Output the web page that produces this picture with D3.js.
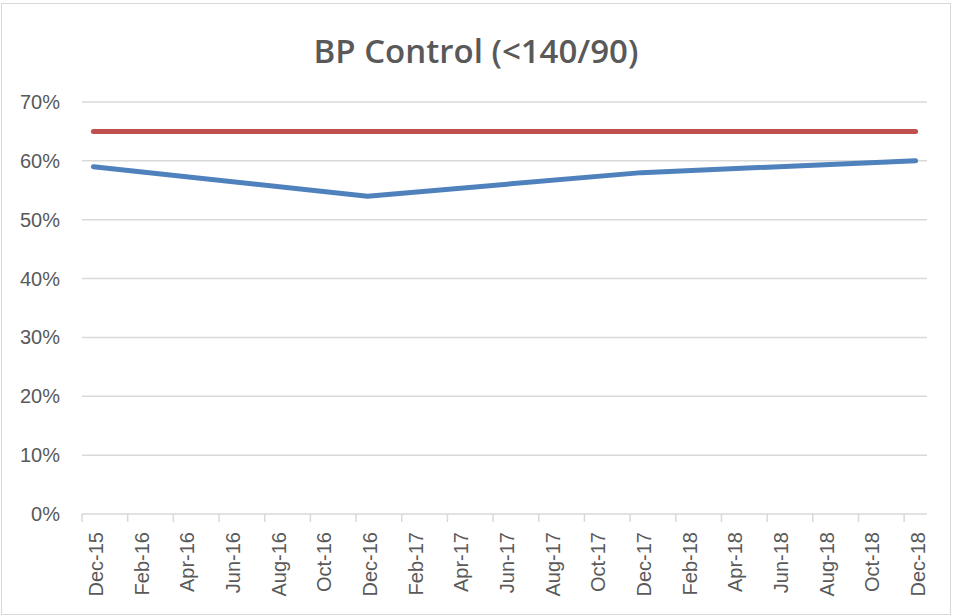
<!DOCTYPE html>
<html>
<head>
<meta charset="utf-8">
<script src="https://cdn.jsdelivr.net/npm/d3@7"></script>
<style>
  body { margin: 0; background: #fff; }
</style>
</head>
<body>
<script>
// monthly slots from Dec-15 to Dec-18 (37 months)
let months = ["Dec-15","Jan-16","Feb-16","Mar-16","Apr-16","May-16","Jun-16","Jul-16","Aug-16","Sep-16","Oct-16","Nov-16",
  "Dec-16","Jan-17","Feb-17","Mar-17","Apr-17","May-17","Jun-17","Jul-17","Aug-17","Sep-17","Oct-17","Nov-17",
  "Dec-17","Jan-18","Feb-18","Mar-18","Apr-18","May-18","Jun-18","Jul-18","Aug-18","Sep-18","Oct-18","Nov-18","Dec-18"];

let dates = ["Dec-15", "Dec-16", "Dec-17", "Dec-18"];
let actual = [0.59, 0.54, 0.58, 0.60];
let target = [0.65, 0.65, 0.65, 0.65];
let yTicks = [0, 0.1, 0.2, 0.3, 0.4, 0.5, 0.6, 0.7];

let width = 956, height = 616;
let plotLeft = 82, plotRight = 927, plotTop = 102, plotBottom = 514;

let svg = d3.select("body").append("svg")
    .attr("width", width).attr("height", height);

svg.append("rect")
    .attr("x", 1.5).attr("y", 3.5)
    .attr("width", 949).attr("height", 611)
    .attr("fill", "#fff").attr("stroke", "#d9d9d9");

let xScale = d3.scaleLinear()
    .domain([0, months.length])
    .range([plotLeft, plotRight]);

let yScale = d3.scaleLinear()
    .domain([0, 0.7])
    .range([plotBottom, plotTop]);

// gridlines
svg.append("g")
    .selectAll("line")
    .data(yTicks).enter()
    .append("line")
    .attr("x1", plotLeft).attr("x2", plotRight)
    .attr("y1", function (d) { return yScale(d); })
    .attr("y2", function (d) { return yScale(d); })
    .attr("stroke", "#d9d9d9")
    .attr("stroke-width", 1.5);

// y axis labels
svg.append("g")
    .selectAll("text")
    .data(yTicks).enter()
    .append("text")
    .attr("x", 60)
    .attr("y", function (d) { return yScale(d) + 7; })
    .attr("text-anchor", "end")
    .attr("font-family", "Liberation Sans, Arial, sans-serif")
    .attr("font-size", 20)
    .attr("fill", "#595959")
    .text(d3.format(".0%"));

// x ticks every 2 months at slot boundaries
let tickIdx = d3.range(0, months.length + 1, 2);
svg.append("g")
    .selectAll("line")
    .data(tickIdx).enter()
    .append("line")
    .attr("x1", function (d) { return xScale(d); })
    .attr("x2", function (d) { return xScale(d); })
    .attr("y1", plotBottom).attr("y2", plotBottom + 8)
    .attr("stroke", "#d9d9d9")
    .attr("stroke-width", 1.5);

let labelIdx = d3.range(0, months.length, 2);
svg.append("g")
    .selectAll("text")
    .data(labelIdx).enter()
    .append("text")
    .attr("transform", function (d) {
        return "translate(" + (xScale(d + 0.5) + 9.5) + "," + (plotBottom + 18) + ") rotate(-90)";
    })
    .attr("text-anchor", "end")
    .attr("font-family", "Liberation Sans, Arial, sans-serif")
    .attr("font-size", 20)
    .attr("fill", "#595959")
    .text(function (d) { return months[d]; });

// lines
let line = d3.line()
    .x(function (d) { return xScale(months.indexOf(d[0]) + 0.5); })
    .y(function (d) { return yScale(d[1]); });

svg.append("path")
    .datum(d3.zip(dates, target))
    .attr("d", line)
    .attr("fill", "none")
    .attr("stroke", "#c0504d")
    .attr("stroke-width", 5)
    .attr("stroke-linecap", "round")
    .attr("stroke-linejoin", "round");

svg.append("path")
    .datum(d3.zip(dates, actual))
    .attr("d", line)
    .attr("fill", "none")
    .attr("stroke", "#4f81bd")
    .attr("stroke-width", 5)
    .attr("stroke-linecap", "round")
    .attr("stroke-linejoin", "round");

// title
svg.append("text")
    .attr("x", 476).attr("y", 63)
    .attr("text-anchor", "middle")
    .attr("font-family", "Open Sans, sans-serif")
    .attr("font-weight", 600)
    .attr("font-size", 33)
    .attr("fill", "#595959")
    .text("BP Control (<140/90)");
</script>
</body>
</html>
